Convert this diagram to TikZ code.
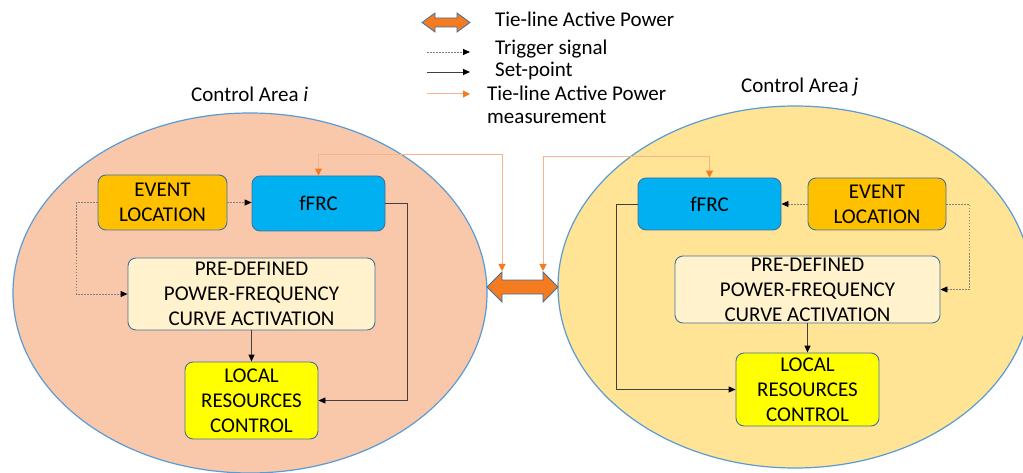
\documentclass[tikz,border=0pt]{standalone}
\usepackage{fontspec}
\setmainfont{Carlito}
\usetikzlibrary{arrows.meta,calc}
\definecolor{peach}{HTML}{F9C8AA}
\definecolor{gold}{HTML}{FFE496}
\definecolor{ellb}{HTML}{5B9BD5}
\definecolor{boxb}{HTML}{41719C}
\definecolor{evc}{HTML}{FFC000}
\definecolor{frc}{HTML}{00B0F0}
\definecolor{prec}{HTML}{FFF2CC}
\definecolor{locc}{HTML}{FFFF00}
\definecolor{tiec}{HTML}{F47B20}
\definecolor{measline}{HTML}{F7B48A}
\definecolor{meastip}{HTML}{F47B20}
\begin{document}
\begin{tikzpicture}[x=1pt,y=-1pt,
  every node/.style={font=\fontsize{21}{25}\selectfont, inner sep=0pt, text=black},
  blk/.style={draw=boxb, line width=0.9pt, rounded corners=8pt, align=center},
  trig/.style={draw=gray, line width=0.9pt, dash pattern=on 1.5pt off 1.5pt, -{Triangle[length=7pt,width=6pt,color=black]}},
  setp/.style={draw=black!75, line width=0.9pt, -{Triangle[length=7pt,width=6pt,color=black]}},
  meas/.style={draw=measline, line width=1pt, {Triangle[length=7pt,width=7pt,color=meastip]}-{Triangle[length=7pt,width=7pt,color=meastip]}},
  measone/.style={draw=measline, line width=1pt, -{Triangle[length=7pt,width=7pt,color=meastip]}},
  tiearrow/.style={fill=tiec, draw=boxb, line width=0.8pt, line join=miter},
  area/.style={draw=ellb, line width=1.2pt},
  lbl/.style={anchor=base west}
]
\useasboundingbox (0,0) rectangle (1023,473);
\fill[white] (0,0) rectangle (1023,473);

% areas
\draw[area, fill=peach] (250,293) ellipse [x radius=237pt, y radius=180pt];
\draw[area, fill=gold] (795,287) ellipse [x radius=237pt, y radius=181pt];

\node[lbl] (cai) at (191,102) {Control Area \textit{i}};
\node[lbl] (caj) at (741,93) {Control Area \textit{j}};

% tie-line double arrow
\draw[tiearrow] (487,287) -- (502,272) -- (502,280) -- (543,280) -- (543,272) -- (558,287)
  -- (543,302) -- (543,294) -- (502,294) -- (502,302) -- cycle;
\coordinate (tieL) at (502,271);
\coordinate (tieR) at (543,271);

% left area blocks
\node[blk, fill=evc, minimum width=129pt, minimum height=55pt] (evL) at (162.5,202.5) {EVENT\\LOCATION};
\node[blk, fill=frc, minimum width=133pt, minimum height=55pt] (frL) at (318.5,203.5) {fFRC};
\node[blk, fill=prec, minimum width=247pt, minimum height=72pt] (preL) at (251.5,294) {PRE-DEFINED\\POWER-FREQUENCY\\CURVE ACTIVATION};
\node[blk, fill=locc, minimum width=133pt, minimum height=77pt] (locL) at (251.5,400.5) {LOCAL\\RESOURCES\\CONTROL};

% right area blocks
\node[blk, fill=frc, minimum width=143pt, minimum height=52pt] (frR) at (709.5,204) {fFRC};
\node[blk, fill=evc, minimum width=138pt, minimum height=52pt] (evR) at (877,204) {EVENT\\LOCATION};
\node[blk, fill=prec, minimum width=265pt, minimum height=67pt] (preR) at (807.5,289.5) {PRE-DEFINED\\POWER-FREQUENCY\\CURVE ACTIVATION};
\node[blk, fill=locc, minimum width=143pt, minimum height=73pt] (locR) at (807.5,389.5) {LOCAL\\RESOURCES\\CONTROL};

% left connectors
\draw[trig] (evL.east) -- (evL.east -| frL.west);
\draw[trig] (evL.west) -- ++(-21,0) |- (preL.west);
\draw[setp] (preL.south) -- (locL.north);
\draw[setp] (frL.east) -- ++(22,0) |- (locL.east);
\draw[meas] (tieL) -- ++(0,-116) -| (frL.north);

% right connectors
\draw[trig] (evR.west) -- (frR.east);
\draw[trig] (evR.east) -- ++(23,0) |- (preR.east);
\draw[setp] (preR.south) -- (locR.north);
\draw[setp] (frR.west) -- ++(-21,0) |- (locR.west);
\draw[meas] (tieR) -- ++(0,-114) -| (frR.north);

% legend
\draw[tiearrow] (422,22.5) -- (435,13) -- (435,18) -- (457,18) -- (457,13) -- (470,22.5)
  -- (457,32) -- (457,27) -- (435,27) -- (435,32) -- cycle;
\coordinate (lg1a) at (427,52); \coordinate (lg1b) at (470,52);
\coordinate (lg2a) at (427,72); \coordinate (lg2b) at (470,72);
\coordinate (lg3a) at (427,94); \coordinate (lg3b) at (470,94);
\draw[trig] (lg1a) -- (lg1b);
\draw[setp] (lg2a) -- (lg2b);
\draw[measone] (lg3a) -- (lg3b);
\node[lbl] (t1) at (495,27) {Tie-line Active Power};
\node[lbl] (t2) at (495,55) {Trigger signal};
\node[lbl] (t3) at (495,77) {Set-point};
\node[lbl] (t4) at (487,101) {Tie-line Active Power};
\node[lbl] (t5) at (487,124) {measurement};
\end{tikzpicture}
\end{document}
